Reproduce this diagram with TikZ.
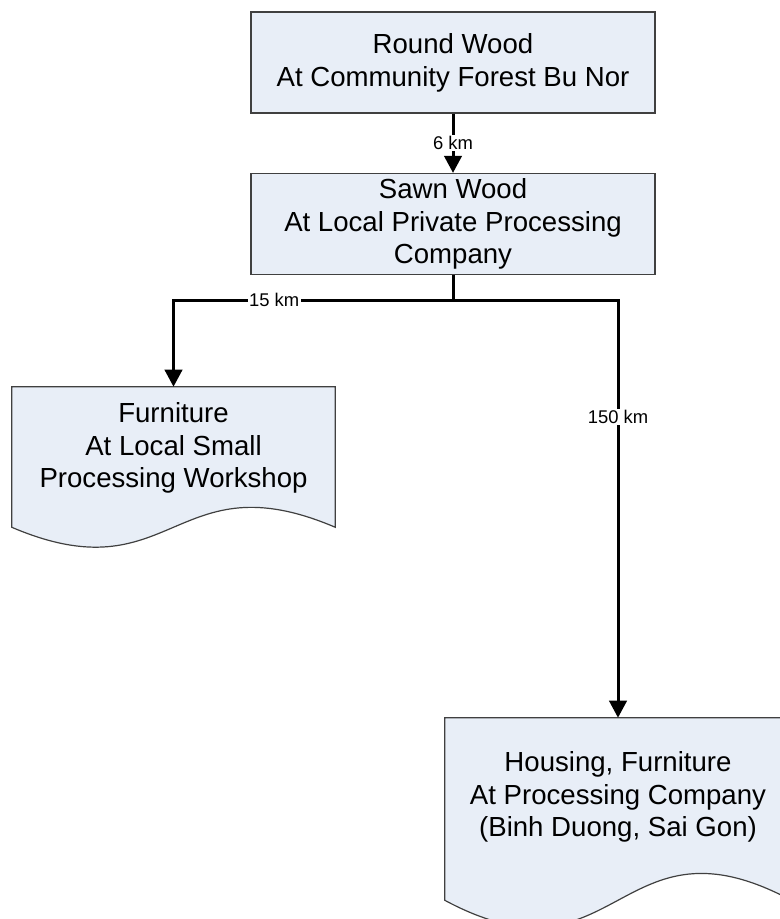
\documentclass[tikz,border=0pt]{standalone}
\usepackage{fontspec}
\setmainfont{Liberation Sans}
\usetikzlibrary{arrows.meta,calc,backgrounds}
\definecolor{boxfill}{RGB}{232,238,247}
\definecolor{boxline}{RGB}{64,64,64}

\begin{document}
\begin{tikzpicture}[x=0.75pt,y=-0.75pt,
  stage/.style={draw=boxline,fill=boxfill,line width=0.9pt,align=center,
    font=\fontsize{20.7}{24.6}\selectfont,minimum width=303pt,minimum height=75.75pt,inner sep=0pt},
  doc/.style={align=center,font=\fontsize{20.7}{24.6}\selectfont,inner sep=0pt},
  docline/.style={draw=boxline,fill=boxfill,line width=0.9pt},
  flow/.style={line width=2.25pt},
  tip/.style={-{Triangle[length=12.75pt,width=13pt]}},
  dist/.style={fill=white,inner sep=1pt,font=\fontsize{13.8}{16}\selectfont}]
\useasboundingbox (0,0) rectangle (779,919);
\clip (0,0) rectangle (779,919);
\node[stage] (round) at (453,62.5) {Round Wood\\At Community Forest Bu Nor};
\node[stage] (sawn) at (453,224) {Sawn Wood\\At Local Private Processing\\Company};
\node[doc,minimum width=242.25pt,minimum height=91.5pt] (furn) at (173.5,448) {Furniture\\At Local Small\\Processing Workshop};
\node[doc,minimum width=259.5pt,minimum height=118.5pt] (house) at (618,797) {Housing, Furniture\\At Processing Company\\(Binh Duong, Sai Gon)};
\begin{scope}[on background layer]
\draw[docline] (furn.north west) -- (furn.north east) -- ($(furn.south east)+(0,18)$)
  .. controls ($(furn.south)+(0,-51)$) and ($(furn.south)+(0,87)$) .. ($(furn.south west)+(0,18)$) -- cycle;
\draw[docline] (house.north west) -- (house.north east) -- ($(house.south east)+(0,24)$)
  .. controls ($(house.south)+(0,-69)$) and ($(house.south)+(0,117)$) .. ($(house.south west)+(0,24)$) -- cycle;
\end{scope}
\coordinate (jct) at ($(sawn.south)+(0,25)$);
\draw[flow,tip] (round) -- node[dist] {6 km} (sawn);
\draw[flow] (sawn.south) -- (jct);
\draw[flow,tip] (jct) -| node[dist,pos=0.32] {15 km} (furn.north);
\draw[flow,tip] (jct) -| node[dist,pos=0.64] {150 km} (house.north);
\end{tikzpicture}
\end{document}
